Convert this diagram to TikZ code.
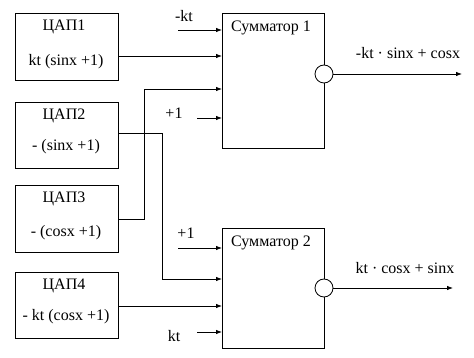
\documentclass[tikz,border=0pt]{standalone}
\usepackage{fontspec}
\setmainfont{Liberation Serif}
\usetikzlibrary{arrows.meta}
\begin{document}
\begin{tikzpicture}[x=1pt,y=-1pt,
  box/.style={draw,line width=0.8pt,anchor=north west,minimum width=103pt,inner sep=0pt},
  sumbox/.style={draw,line width=0.8pt,anchor=north west,minimum width=102pt,inner sep=0pt},
  txt/.style={font=\fontsize{16}{18}\selectfont,inner sep=0pt},
  ring/.style={draw,line width=0.8pt,fill=white,circle,minimum size=18pt,inner sep=0pt},
  wire/.style={line width=0.8pt},
  arr/.style={line width=0.8pt,-{Latex[length=6pt,width=4.5pt]}}]
\useasboundingbox (0,0) rectangle (474,358);
% DAC boxes
\node[box,minimum height=67pt] (d1) at (15,13) {};
\node[box,minimum height=66pt] (d2) at (15,102) {};
\node[box,minimum height=67pt] (d3) at (15,185) {};
\node[box,minimum height=66pt] (d4) at (15,272) {};
\node[txt] (d1t) at (64,27) {ЦАП1};
\node[txt] (d1f) at (66,62) {kt (sinx +1)};
\node[txt] (d2t) at (64,116) {ЦАП2};
\node[txt] (d2f) at (66,147) {- (sinx +1)};
\node[txt] (d3t) at (64,199) {ЦАП3};
\node[txt] (d3f) at (66,233) {- (cosx +1)};
\node[txt] (d4t) at (64,286) {ЦАП4};
\node[txt] (d4f) at (66,317) {- kt (cosx +1)};
% Summators
\node[sumbox,minimum height=135pt] (s1) at (222,13) {};
\node[sumbox,minimum height=120pt] (s2) at (222,228) {};
\node[txt] (s1t) at (271,28) {Сумматор 1};
\node[txt] (s2t) at (271,243) {Сумматор 2};
% output rings
\node[ring] (r1) at (324,74) {};
\node[ring] (r2) at (324,288) {};
\coordinate (o1) at (462,74);
\coordinate (o2) at (453,288);
\draw[arr] (r1) -- (o1);
\draw[arr] (r2) -- (o2);
\node[txt] (o1t) at (408,53) {-kt · sinx + cosx};
\node[txt] (o2t) at (405,268) {kt · cosx + sinx};
% input points on S1
\coordinate (a1) at (222,30);
\coordinate (a2) at (222,56);
\coordinate (a3) at (222,89);
\coordinate (a4) at (222,118);
% input points on S2
\coordinate (b1) at (222,248);
\coordinate (b2) at (222,279);
\coordinate (b3) at (222,306);
\coordinate (b4) at (222,332);
% free starts
\coordinate (f1) at (178,30);
\coordinate (f2) at (197,118);
\coordinate (f3) at (178,248);
\coordinate (f4) at (197,332);
\draw[arr] (f1) -- (a1);
\draw[arr] (f2) -- (a4);
\draw[arr] (f3) -- (b1);
\draw[arr] (f4) -- (b4);
\node[txt] (l1) at (184,16) {-kt};
\node[txt] (l2) at (174,113) {+1};
\node[txt] (l3) at (186,233) {+1};
\node[txt] (l4) at (174,336) {kt};
% connections from DACs
\draw[arr] (d1.east |- a2) -- (a2);
\draw[arr] (d4.east |- b3) -- (b3);
\coordinate (k2) at (162,133);
\coordinate (k3) at (144,219);
\draw[arr] (d2.east |- k2) -- (k2) |- (b2);
\draw[arr] (d3.east |- k3) -- (k3) |- (a3);
\end{tikzpicture}
\end{document}
